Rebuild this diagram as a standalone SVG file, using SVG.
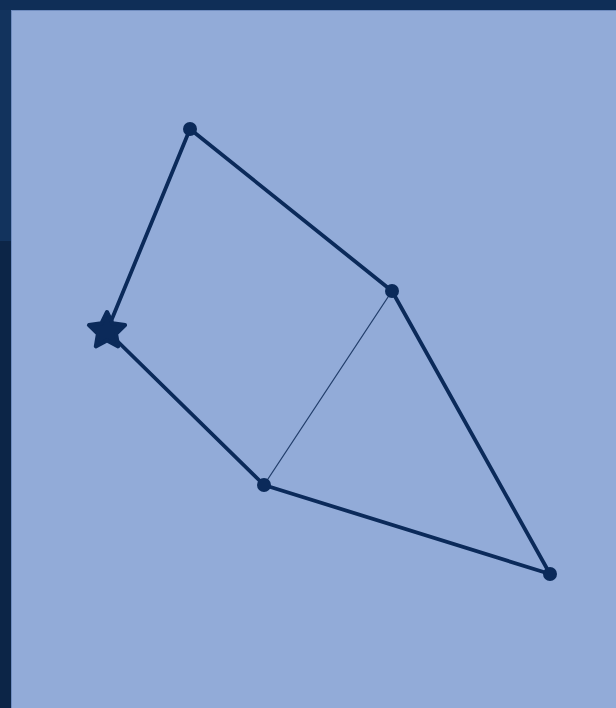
<svg xmlns="http://www.w3.org/2000/svg" width="616" height="708" viewBox="0 0 616 708">
<style>
.edge{stroke:#0b2a5a;stroke-linecap:round;fill:none}
.thick{stroke-width:3.8}
.thin{stroke-width:1.3;stroke:#233f6c}
.node{fill:#0b2a5a}
</style>
<rect x="0" y="0" width="616" height="708" fill="#0f2e57"/>
<rect x="0" y="241" width="12" height="467" fill="#0c2547"/>
<rect x="0" y="10" width="12" height="231" fill="#12335d"/>
<rect x="11.5" y="10.5" width="606" height="700" fill="#92abd8" stroke="#6f8cbf" stroke-width="1"/>
<g id="connectors">
<line class="edge thick" x1="107" y1="331" x2="190" y2="129"/>
<line class="edge thick" x1="190" y1="129" x2="392" y2="291"/>
<line class="edge thick" x1="392" y1="291" x2="550" y2="574"/>
<line class="edge thick" x1="550" y1="574" x2="264" y2="485"/>
<line class="edge thick" x1="264" y1="485" x2="107" y2="331"/>
<line class="edge thin" x1="392" y1="291" x2="264" y2="485"/>
</g>
<g id="star"><polygon class="node" stroke="#0b2a5a" stroke-width="4" stroke-linejoin="round" points="107,312 112.6,323.3 125.1,325.1 116.1,333.9 118.2,346.4 107,340.5 95.8,346.4 97.9,333.9 88.9,325.1 101.4,323.3"/></g>
<g id="nodeA"><circle class="node" cx="190" cy="129" r="7"/></g>
<g id="nodeB"><circle class="node" cx="392" cy="291" r="7"/></g>
<g id="nodeC"><circle class="node" cx="264" cy="485" r="7"/></g>
<g id="nodeD"><circle class="node" cx="550" cy="574" r="7"/></g>
</svg>
